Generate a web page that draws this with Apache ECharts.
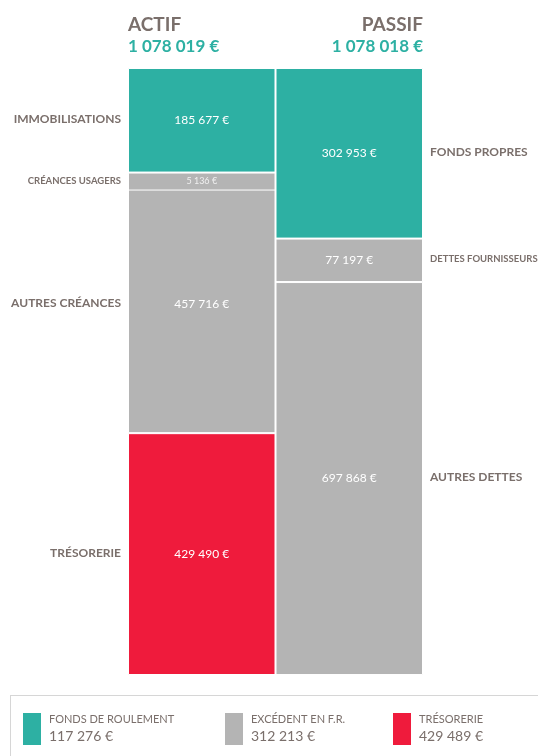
<!DOCTYPE html>
<html>
<head>
<meta charset="utf-8">
<script src="https://cdn.jsdelivr.net/npm/echarts@6/dist/echarts.min.js"></script>
<style>
  html, body { margin: 0; padding: 0; background: #fff; }
  #main { width: 538px; height: 756px; }
</style>
</head>
<body>
<div id="main"></div>
<script>
// data
var columns = ['ACTIF', 'PASSIF'];
var actifNames = ['IMMOBILISATIONS', 'CRÉANCES USAGERS', 'AUTRES CRÉANCES', 'TRÉSORERIE'];
var actifValues = [185677, 5136, 457716, 429490];
var passifNames = ['FONDS PROPRES', 'DETTES FOURNISSEURS', 'AUTRES DETTES'];
var passifValues = [302953, 77197, 697868];
var totals = [1078019, 1078018];
var legendNames = ['FONDS DE ROULEMENT', 'EXCÉDENT EN F.R.', 'TRÉSORERIE'];
var legendValues = [117276, 312213, 429489];

var TEAL = '#2db0a3', GREY = '#b4b4b4', RED = '#ef1b3c', TEXT = '#7a6f6b';
var FONT = 'Lato, "Open Sans", sans-serif';
var actifColors = [TEAL, GREY, GREY, RED];
var passifColors = [TEAL, GREY, GREY];
var legendColors = [TEAL, GREY, RED];
var smallNames = ['CRÉANCES USAGERS', 'DETTES FOURNISSEURS'];

function euro(v) {
    return String(v).replace(/\B(?=(\d{3})+(?!\d))/g, ' ') + ' €';
}

var cols = [
    { names: actifNames, values: actifValues, colors: actifColors },
    { names: passifNames, values: passifValues, colors: passifColors }
];

var series = [];
for (var i = 0; i < 4; i++) {
    var bars = [], tags = [];
    cols.forEach(function (col, c) {
        var v = col.values[i];
        if (v == null) { bars.push(null); tags.push(null); return; }
        var small = v / totals[c] < 0.02;
        var name = col.names[i];
        bars.push({
            value: v,
            itemStyle: { color: col.colors[i] },
            label: { fontSize: small ? 9 : 12, color: small ? '#f0f0f0' : '#ffffff' }
        });
        tags.push({
            value: v,
            label: {
                formatter: name,
                position: c === 0 ? [-7, '50%'] : ['100%', '50%'],
                offset: c === 0 ? [0, -1] : [7, -1],
                align: c === 0 ? 'right' : 'left',
                fontSize: smallNames.indexOf(name) >= 0 ? 9.5 : 12
            }
        });
    });
    // upper blocks drawn above the lower ones so a min-height block stays visible
    series.push({
        type: 'bar', stack: 'blocks', barMinHeight: 18, barGap: '-100%', barCategoryGap: 0,
        data: bars, silent: true, z: 10 - i,
        itemStyle: { borderColor: '#ffffff', borderWidth: 1 },
        label: {
            show: true, position: 'inside', fontFamily: FONT,
            formatter: function (p) { return euro(p.value); }
        }
    });
    series.push({
        type: 'bar', stack: 'names', barMinHeight: 18, barGap: '-100%', barCategoryGap: 0,
        data: tags, silent: true, z: 20,
        itemStyle: { color: 'rgba(0,0,0,0)' },
        label: {
            show: true, verticalAlign: 'middle', color: TEXT,
            fontFamily: FONT, fontWeight: 'bold'
        }
    });
}

// legend box at the bottom
var graphic = [
    { type: 'line', shape: { x1: 10, y1: 695.5, x2: 538, y2: 695.5 }, style: { stroke: '#d6d6d6', lineWidth: 1 } },
    { type: 'line', shape: { x1: 10.5, y1: 695, x2: 10.5, y2: 756 }, style: { stroke: '#d6d6d6', lineWidth: 1 } }
];
var legendX = [23, 225, 393];
legendNames.forEach(function (n, k) {
    graphic.push({ type: 'rect', shape: { x: legendX[k], y: 713, width: 18, height: 32 }, style: { fill: legendColors[k] } });
    graphic.push({ type: 'text', x: legendX[k] + 26, y: 719,
        style: { text: n, fill: TEXT, font: '11px ' + FONT, verticalAlign: 'middle' } });
    graphic.push({ type: 'text', x: legendX[k] + 26, y: 736,
        style: { text: euro(legendValues[k]), fill: TEXT, font: '14px ' + FONT, verticalAlign: 'middle' } });
});

var titleText = { color: TEXT, fontSize: 19, fontWeight: 'bold', fontFamily: FONT };
var titleSub = { color: TEAL, fontSize: 17, fontWeight: 'bold', fontFamily: FONT };

var chart = echarts.init(document.getElementById('main'));
chart.setOption({
    animation: false,
    title: [
        { text: columns[0], subtext: euro(totals[0]), left: 128, top: 15, padding: 0, itemGap: 4,
          textStyle: titleText, subtextStyle: titleSub },
        { text: columns[1], subtext: euro(totals[1]), left: 423, top: 15, padding: 0, itemGap: 4,
          textAlign: 'right', textStyle: titleText, subtextStyle: titleSub }
    ],
    grid: { left: 128, right: 115, top: 68, bottom: 81 },
    xAxis: { type: 'category', data: columns, show: false },
    yAxis: { type: 'value', inverse: true, min: 0, max: totals[0], show: false },
    series: series,
    graphic: graphic
});
</script>
</body>
</html>
